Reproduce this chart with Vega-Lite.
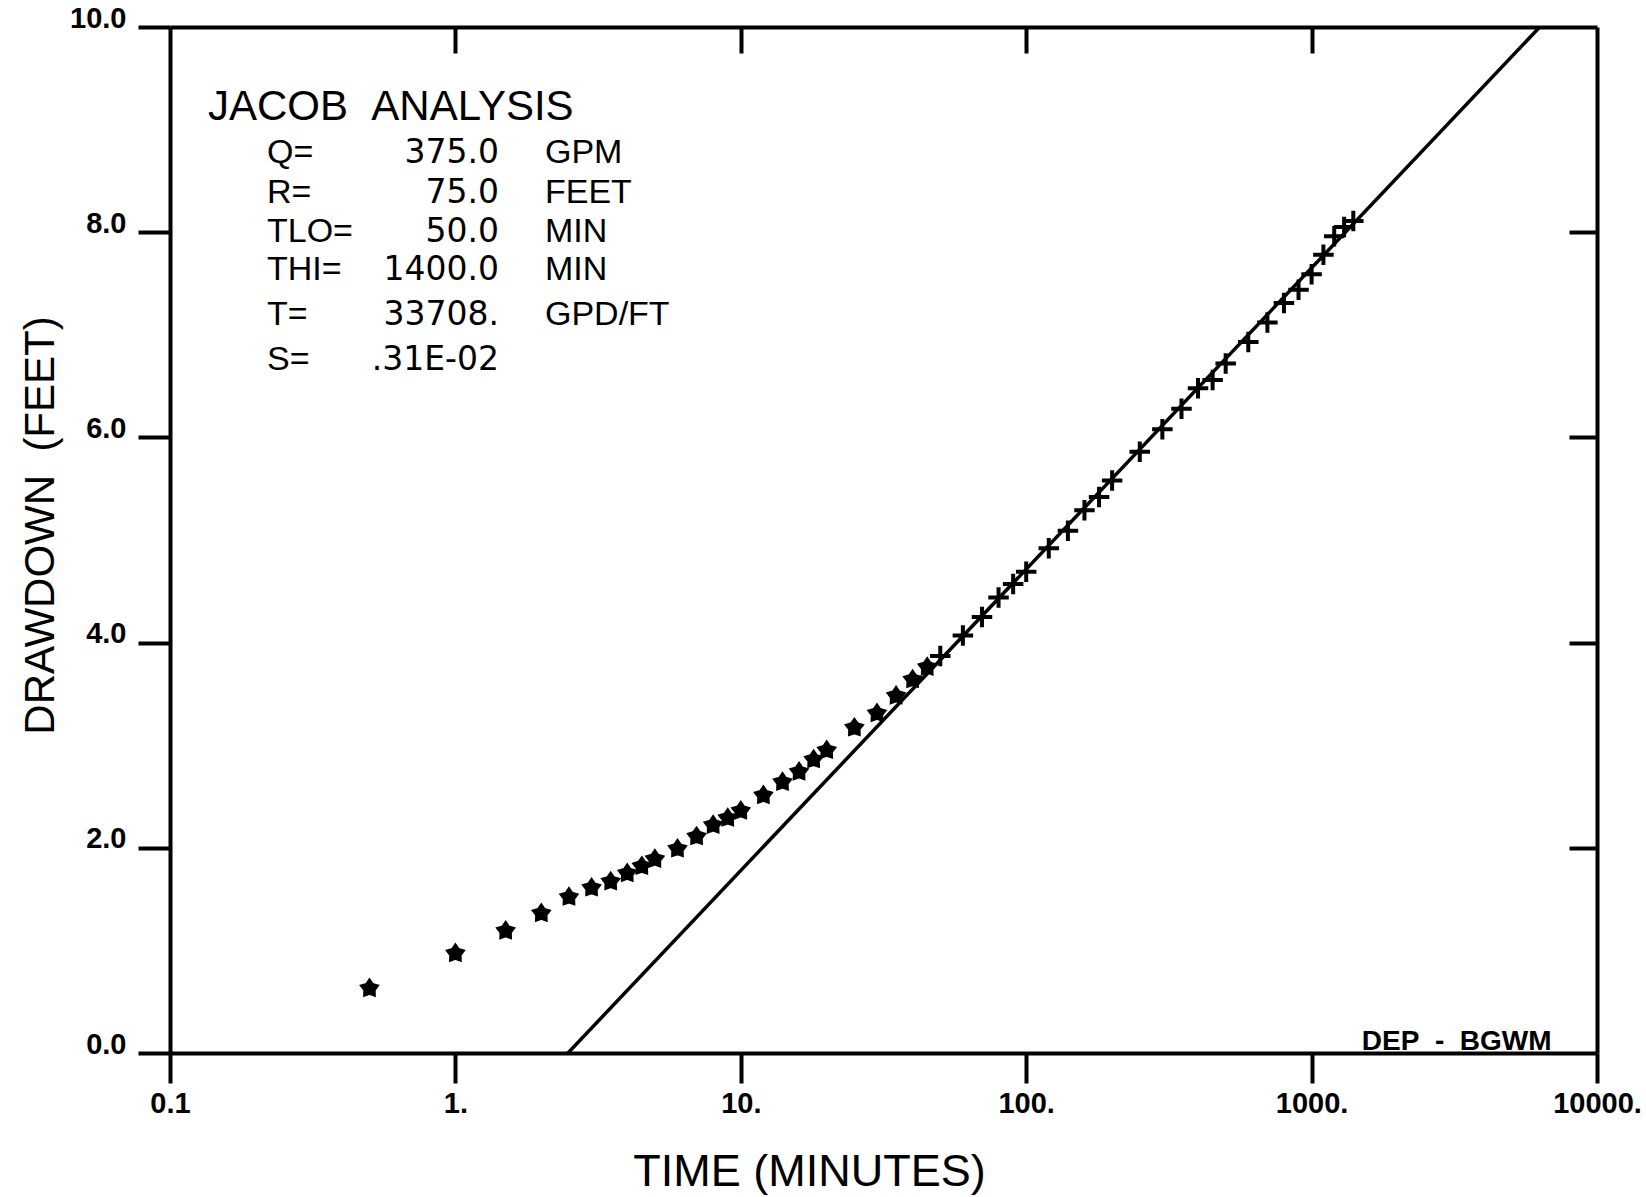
{
  "$schema": "https://vega.github.io/schema/vega-lite/v6.json",
  "width": 1427,
  "height": 1026,
  "autosize": {"type": "none"},
  "padding": {"left": 170, "top": 27, "right": 49, "bottom": 144},
  "background": "white",
  "config": {
    "view": {"stroke": null},
    "font": "Liberation Sans",
    "axis": {"domainColor": "black", "tickColor": "black", "labelColor": "black", "titleColor": "black", "grid": false, "domainWidth": 4, "tickWidth": 4, "labelFlush": false, "labelOverlap": false}
  },
  "datasets": {
    "obs": [
      {"time": 0.5, "drawdown": 0.63, "phase": "early"},
      {"time": 1, "drawdown": 0.97, "phase": "early"},
      {"time": 1.5, "drawdown": 1.19, "phase": "early"},
      {"time": 2, "drawdown": 1.36, "phase": "early"},
      {"time": 2.5, "drawdown": 1.52, "phase": "early"},
      {"time": 3, "drawdown": 1.61, "phase": "early"},
      {"time": 3.5, "drawdown": 1.67, "phase": "early"},
      {"time": 4, "drawdown": 1.75, "phase": "early"},
      {"time": 4.5, "drawdown": 1.82, "phase": "early"},
      {"time": 5, "drawdown": 1.89, "phase": "early"},
      {"time": 6, "drawdown": 1.99, "phase": "early"},
      {"time": 7, "drawdown": 2.11, "phase": "early"},
      {"time": 8, "drawdown": 2.22, "phase": "early"},
      {"time": 9, "drawdown": 2.29, "phase": "early"},
      {"time": 10, "drawdown": 2.36, "phase": "early"},
      {"time": 12, "drawdown": 2.51, "phase": "early"},
      {"time": 14, "drawdown": 2.64, "phase": "early"},
      {"time": 16, "drawdown": 2.74, "phase": "early"},
      {"time": 18, "drawdown": 2.86, "phase": "early"},
      {"time": 20, "drawdown": 2.95, "phase": "early"},
      {"time": 25, "drawdown": 3.17, "phase": "early"},
      {"time": 30, "drawdown": 3.31, "phase": "early"},
      {"time": 35, "drawdown": 3.48, "phase": "early"},
      {"time": 40, "drawdown": 3.64, "phase": "early"},
      {"time": 45, "drawdown": 3.76, "phase": "early"},
      {"time": 50, "drawdown": 3.87, "phase": "fit"},
      {"time": 60, "drawdown": 4.07, "phase": "fit"},
      {"time": 70, "drawdown": 4.25, "phase": "fit"},
      {"time": 80, "drawdown": 4.44, "phase": "fit"},
      {"time": 90, "drawdown": 4.57, "phase": "fit"},
      {"time": 100, "drawdown": 4.69, "phase": "fit"},
      {"time": 120, "drawdown": 4.92, "phase": "fit"},
      {"time": 140, "drawdown": 5.09, "phase": "fit"},
      {"time": 160, "drawdown": 5.29, "phase": "fit"},
      {"time": 180, "drawdown": 5.42, "phase": "fit"},
      {"time": 200, "drawdown": 5.58, "phase": "fit"},
      {"time": 250, "drawdown": 5.86, "phase": "fit"},
      {"time": 300, "drawdown": 6.08, "phase": "fit"},
      {"time": 350, "drawdown": 6.28, "phase": "fit"},
      {"time": 400, "drawdown": 6.48, "phase": "fit"},
      {"time": 450, "drawdown": 6.56, "phase": "fit"},
      {"time": 500, "drawdown": 6.72, "phase": "fit"},
      {"time": 600, "drawdown": 6.93, "phase": "fit"},
      {"time": 700, "drawdown": 7.12, "phase": "fit"},
      {"time": 800, "drawdown": 7.31, "phase": "fit"},
      {"time": 900, "drawdown": 7.44, "phase": "fit"},
      {"time": 1000, "drawdown": 7.59, "phase": "fit"},
      {"time": 1100, "drawdown": 7.78, "phase": "fit"},
      {"time": 1200, "drawdown": 7.96, "phase": "fit"},
      {"time": 1300, "drawdown": 8.05, "phase": "fit"},
      {"time": 1400, "drawdown": 8.11, "phase": "fit"}
    ],
    "jacob": [
      {"time": 2.48, "drawdown": 0},
      {"time": 6302, "drawdown": 10}
    ],
    "notes": [
      {"label": "Q=", "value": "375.0", "unit": "GPM", "drawdown": 8.674},
      {"label": "R=", "value": "75.0", "unit": "FEET", "drawdown": 8.285},
      {"label": "TLO=", "value": "50.0", "unit": "MIN", "drawdown": 7.904},
      {"label": "THI=", "value": "1400.0", "unit": "MIN", "drawdown": 7.534},
      {"label": "T=", "value": "33708.", "unit": "GPD/FT", "drawdown": 7.096},
      {"label": "S=", "value": ".31E-02", "unit": "", "drawdown": 6.657}
    ],
    "heading": [
      {"text": "JACOB\u00a0\u00a0ANALYSIS", "time": 0.1358, "drawdown": 9.094}
    ],
    "stamp": [
      {"text": "DEP\u00a0\u00a0-\u00a0\u00a0BGWM", "time": 6930, "drawdown": 0.03}
    ]
  },
  "resolve": {"axis": {"x": "independent", "y": "independent"}},
  "layer": [
    {
      "data": {"name": "jacob"},
      "mark": {"type": "line", "color": "black", "strokeWidth": 3.5, "clip": true},
      "encoding": {
        "x": {
          "field": "time", "type": "quantitative",
          "scale": {"type": "log", "domain": [0.1, 10000], "nice": false},
          "axis": {
            "orient": "bottom", "values": [0.1, 1, 10, 100, 1000, 10000], "tickSize": 30,
            "labelExpr": "datum.value < 1 ? '0.1' : format(datum.value, 'd') + '.'",
            "labelFont": "Liberation Sans", "labelFontWeight": "bold", "labelFontSize": 29, "labelPadding": 6,
            "title": "TIME (MINUTES)", "titleFont": "Liberation Sans", "titleFontWeight": "normal", "titleFontSize": 45,
            "titleX": 639, "titleY": 132, "titleBaseline": "alphabetic", "titleAlign": "center"
          }
        },
        "y": {
          "field": "drawdown", "type": "quantitative",
          "scale": {"domain": [0, 10], "nice": false, "zero": false},
          "axis": {
            "orient": "left", "values": [0, 2, 4, 6, 8, 10], "tickSize": 32, "format": ".1f",
            "labelFont": "Liberation Sans", "labelFontWeight": "bold", "labelFontSize": 29, "labelPadding": 12, "labelBaseline": "alphabetic",
            "title": "DRAWDOWN\u00a0\u00a0(FEET)", "titleFont": "Liberation Sans", "titleFontWeight": "normal", "titleFontSize": 42,
            "titleX": -117, "titleY": 498, "titleAngle": -90, "titleBaseline": "alphabetic", "titleAlign": "center"
          }
        }
      }
    },
    {
      "data": {"name": "obs"},
      "transform": [{"filter": "datum.phase === 'early'"}],
      "mark": {"type": "point", "shape": "M0,-1L0.353,-0.485L0.951,-0.309L0.571,0.185L0.588,0.809L0,0.6L-0.588,0.809L-0.571,0.185L-0.951,-0.309L-0.353,-0.485Z", "filled": true, "size": 300, "color": "black", "stroke": "black", "strokeWidth": 2.5, "opacity": 1},
      "encoding": {
        "x": {"field": "time", "type": "quantitative", "axis": {"orient": "top", "values": [1, 10, 100, 1000], "tickSize": -26, "labels": false, "title": null}},
        "y": {"field": "drawdown", "type": "quantitative", "axis": {"orient": "right", "values": [2, 4, 6, 8], "tickSize": -28, "labels": false, "title": null}}
      }
    },
    {
      "data": {"name": "obs"},
      "transform": [{"filter": "datum.phase === 'fit'"}],
      "mark": {"type": "point", "shape": "M-1,0L1,0M0,-1L0,1", "filled": false, "size": 420, "color": "black", "strokeWidth": 4, "opacity": 1},
      "encoding": {
        "x": {"field": "time", "type": "quantitative", "axis": null},
        "y": {"field": "drawdown", "type": "quantitative", "axis": null}
      }
    },
    {
      "data": {"name": "heading"},
      "mark": {"type": "text", "align": "left", "baseline": "alphabetic", "fontSize": 42, "font": "Liberation Sans", "color": "black"},
      "encoding": {
        "x": {"field": "time", "type": "quantitative", "axis": null},
        "y": {"field": "drawdown", "type": "quantitative", "axis": null},
        "text": {"field": "text"}
      }
    },
    {
      "data": {"name": "notes"},
      "mark": {"type": "text", "align": "left", "baseline": "alphabetic", "fontSize": 34, "font": "Liberation Sans", "color": "black"},
      "encoding": {
        "x": {"datum": 0.2187, "type": "quantitative", "axis": null},
        "y": {"field": "drawdown", "type": "quantitative", "axis": null},
        "text": {"field": "label"}
      }
    },
    {
      "data": {"name": "notes"},
      "mark": {"type": "text", "align": "right", "baseline": "alphabetic", "fontSize": 33, "font": "DejaVu Sans", "color": "black"},
      "encoding": {
        "x": {"datum": 1.4216, "type": "quantitative", "axis": null},
        "y": {"field": "drawdown", "type": "quantitative", "axis": null},
        "text": {"field": "value"}
      }
    },
    {
      "data": {"name": "notes"},
      "mark": {"type": "text", "align": "left", "baseline": "alphabetic", "fontSize": 34, "font": "Liberation Sans", "color": "black"},
      "encoding": {
        "x": {"datum": 2.06, "type": "quantitative", "axis": null},
        "y": {"field": "drawdown", "type": "quantitative", "axis": null},
        "text": {"field": "unit"}
      }
    },
    {
      "data": {"name": "stamp"},
      "mark": {"type": "text", "align": "right", "baseline": "alphabetic", "fontSize": 28, "fontWeight": "bold", "font": "Liberation Sans", "color": "black"},
      "encoding": {
        "x": {"field": "time", "type": "quantitative", "axis": null},
        "y": {"field": "drawdown", "type": "quantitative", "axis": null},
        "text": {"field": "text"}
      }
    }
  ]
}
